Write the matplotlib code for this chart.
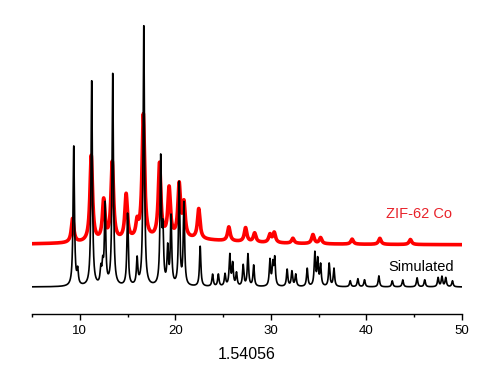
import numpy as np
import matplotlib
matplotlib.use("Agg")
import matplotlib.pyplot as plt

plt.rcParams['font.family'] = ['Liberation Sans', 'DejaVu Sans']

# simulated pattern: peak position (2theta), peak height
sim_pos = [9.37, 9.78, 11.25, 12.2, 12.4, 12.65, 13.45, 15.0, 16.0, 16.7,
           18.47, 18.7, 19.2, 19.55, 20.4, 20.9, 22.6, 23.9, 24.5, 25.2,
           25.7, 26.0, 26.4, 27.1, 27.6, 28.2, 29.9, 30.2, 30.4, 31.7,
           32.2, 32.6, 33.8, 34.6, 34.9, 35.2, 36.1, 36.6, 38.3, 39.1,
           39.8, 41.3, 42.7, 43.8, 45.3, 46.1, 47.5, 47.9, 48.3, 49.0]
sim_int = [140, 14, 205, 15, 18, 80, 212, 72, 26, 260,
           125, 50, 36, 68, 102, 82, 40, 12, 12, 12,
           31, 22, 13, 21, 32, 21, 26, 21, 27, 17,
           15, 12, 18, 33, 26, 21, 23, 18, 6, 8,
           7, 11, 6, 7, 9, 7, 9, 10, 9, 6]

# measured ZIF-62 Co pattern
exp_pos = [9.25, 11.2, 12.5, 13.4, 14.85, 16.0, 16.65, 18.35, 19.35, 20.4,
           20.9, 22.45, 25.6, 27.35, 28.3, 29.9, 30.35, 32.3, 34.4, 35.2,
           38.5, 41.4, 44.6, 20.0]
exp_int = [24, 86, 40, 78, 45, 15, 124, 74, 49, 52,
           33, 30, 14, 14, 9, 8, 10, 5, 9, 6,
           5, 6, 5, 6]
exp_fwhm = [0.32] * 23 + [14.0]
exp_offset = 42

x_ticks = [10, 20, 30, 40, 50]
x_label = "1.54056"


def pattern(x, pos, inten, fwhm):
    y = np.zeros_like(x)
    for p, h, w in zip(pos, inten, fwhm):
        g = (w / 2) ** 2
        y += h * g / ((x - p) ** 2 + g)
    return y


tt = np.linspace(5, 50, 6000)
sim = pattern(tt, sim_pos, sim_int, [0.17] * len(sim_pos))
exp = pattern(tt, exp_pos, exp_int, exp_fwhm) + exp_offset

fig = plt.figure(figsize=(5, 3.73), dpi=100)
ax = fig.add_axes([0.064, 0.1582, 0.86, 0.815])

ax.plot(tt, exp, color="#ff0000", lw=2.6)
ax.plot(tt, sim, color="black", lw=1.2)

ax.text(49.0, 73, "ZIF-62 Co", color="#e8222a", fontsize=10.5, ha="right", va="center")
ax.text(49.2, 20, "Simulated", color="black", fontsize=10.5, ha="right", va="center")

ax.set_xlim(5, 50)
ax.set_ylim(-27, 277)
ax.set_xticks(x_ticks)
ax.set_xticks([5, 15, 25, 35, 45], minor=True)
ax.tick_params(axis="x", which="major", direction="out", length=4, width=1, labelsize=9.5, pad=4)
ax.tick_params(axis="x", which="minor", direction="out", length=2.5, width=1)
ax.set_xlabel(x_label, fontsize=11.5, labelpad=7)
ax.set_yticks([])
for s in ["left", "right", "top"]:
    ax.spines[s].set_visible(False)
ax.spines["bottom"].set_linewidth(1)

fig.savefig("out.png", dpi=100)
